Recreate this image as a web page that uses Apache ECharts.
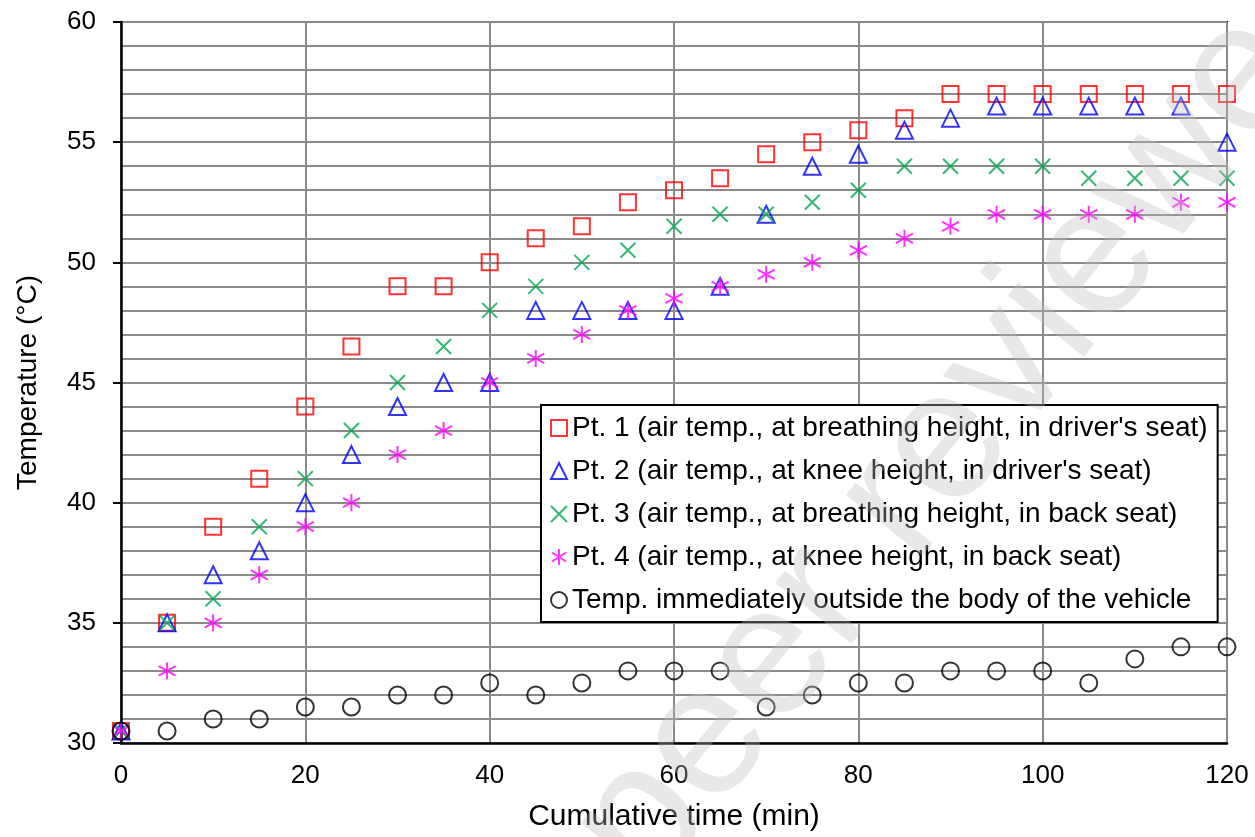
<!DOCTYPE html>
<html>
<head>
<meta charset="utf-8">
<script src="https://cdn.jsdelivr.net/npm/echarts@6/dist/echarts.min.js"></script>
<style>
  html, body { margin: 0; padding: 0; background: #fff; }
  #main { width: 1255px; height: 837px; }
</style>
</head>
<body>
<div id="main"></div>
<script>
// cumulative time (min)
const times = [0, 5, 10, 15, 20, 25, 30, 35, 40, 45, 50, 55, 60, 65, 70, 75, 80, 85, 90, 95, 100, 105, 110, 115, 120];

// temperatures (°C)
const pt1 = [30.5, 35, 39, 41, 44, 46.5, 49, 49, 50, 51, 51.5, 52.5, 53, 53.5, 54.5, 55, 55.5, 56, 57, 57, 57, 57, 57, 57, 57];
const pt2 = [30.5, 35, 37, 38, 40, 42, 44, 45, 45, 48, 48, 48, 48, 49, 52, 54, 54.5, 55.5, 56, 56.5, 56.5, 56.5, 56.5, 56.5, 55];
const pt3 = [30.5, 35, 36, 39, 41, 43, 45, 46.5, 48, 49, 50, 50.5, 51.5, 52, 52, 52.5, 53, 54, 54, 54, 54, 53.5, 53.5, 53.5, 53.5];
const pt4 = [30.5, 33, 35, 37, 39, 40, 42, 43, 45, 46, 47, 48, 48.5, 49, 49.5, 50, 50.5, 51, 51.5, 52, 52, 52, 52, 52.5, 52.5];
const outside = [30.5, 30.5, 31, 31, 31.5, 31.5, 32, 32, 32.5, 32, 32.5, 33, 33, 33, 31.5, 32, 32.5, 32.5, 33, 33, 33, 32.5, 33.5, 34, 34];

const names = [
    "Pt. 1 (air temp., at breathing height, in driver's seat)",
    "Pt. 2 (air temp., at knee height, in driver's seat)",
    "Pt. 3 (air temp., at breathing height, in back seat)",
    "Pt. 4 (air temp., at knee height, in back seat)",
    "Temp. immediately outside the body of the vehicle"
];

const FONT = 'Arial, "Liberation Sans", sans-serif';
const GRID_GRAY = '#8a8a8a';

function pares(vals) {
    return times.map((t, i) => [t, vals[i]]);
}

function serie(nombre, vals, simbolo, color, tam) {
    return {
        name: nombre,
        type: 'scatter',
        data: pares(vals),
        symbol: simbolo,
        symbolSize: tam,
        itemStyle: {
            color: 'rgba(0,0,0,0)',
            borderColor: color,
            borderWidth: 2
        },
        emphasis: { disabled: true }
    };
}

const chart = echarts.init(document.getElementById('main'), null, { renderer: 'canvas' });

chart.setOption({
    animation: false,
    backgroundColor: '#fff',
    textStyle: { fontFamily: FONT },
    grid: {
        left: 121, right: 28, top: 22, bottom: 94,
        show: true,
        borderColor: '#000',
        borderWidth: 2
    },
    xAxis: {
        type: 'value',
        min: 0, max: 120, interval: 20,
        name: 'Cumulative time (min)',
        nameLocation: 'middle',
        nameGap: 59,
        nameTextStyle: { fontSize: 30, color: '#000', fontFamily: FONT },
        axisLine: { lineStyle: { color: '#000', width: 2.5 } },
        axisTick: { show: false },
        axisLabel: { fontSize: 26, color: '#000', margin: 20, fontFamily: FONT },
        splitLine: { show: true, lineStyle: { color: GRID_GRAY, width: 2 } }
    },
    yAxis: {
        type: 'value',
        min: 30, max: 60, interval: 5,
        name: 'Temperature (°C)',
        nameLocation: 'middle',
        nameGap: 79,
        nameTextStyle: { fontSize: 28, color: '#000', fontFamily: FONT },
        axisLine: { show: true, lineStyle: { color: '#000', width: 2.5 } },
        axisTick: { show: true, length: 8, lineStyle: { color: '#000', width: 2 } },
        axisLabel: { fontSize: 26, color: '#000', margin: 25, fontFamily: FONT },
        splitLine: { show: true, lineStyle: { color: GRID_GRAY, width: 2 } },
        minorTick: { show: false, splitNumber: 5 },
        minorSplitLine: { show: true, lineStyle: { color: GRID_GRAY, width: 2 } }
    },
    legend: {
        orient: 'vertical',
        left: 541,
        top: 405,
        backgroundColor: '#fff',
        borderColor: '#000',
        borderWidth: 2,
        borderRadius: 0,
        padding: [9, 10, 8, 9],
        itemGap: 15,
        itemWidth: 16,
        itemHeight: 16,
        selectedMode: false,
        textStyle: { fontSize: 28, color: '#000', fontFamily: FONT },
        data: names
    },
    series: [
        serie(names[0], pt1, 'rect', '#ff0000', 16),
        serie(names[1], pt2, 'triangle', '#0000ff', 17),
        serie(names[2], pt3, 'path://M0,0L10,10M10,0L0,10', '#00a651', 15),
        serie(names[3], pt4, 'path://M5,0L5,10M0.6,2.2L9.4,7.8M9.4,2.2L0.6,7.8', '#ff00ff', 17),
        serie(names[4], outside, 'circle', '#000000', 17)
    ],
    graphic: [{
        type: 'text',
        z: 100,
        silent: true,
        x: 975,
        y: 410,
        rotation: 51 * Math.PI / 180,
        style: {
            text: 'peer reviewed',
            fontSize: 185,
            fontFamily: FONT,
            fill: 'rgba(190,190,190,0.35)',
            align: 'center',
            verticalAlign: 'middle'
        }
    }]
});

window.addEventListener('resize', () => chart.resize());
</script>
</body>
</html>
